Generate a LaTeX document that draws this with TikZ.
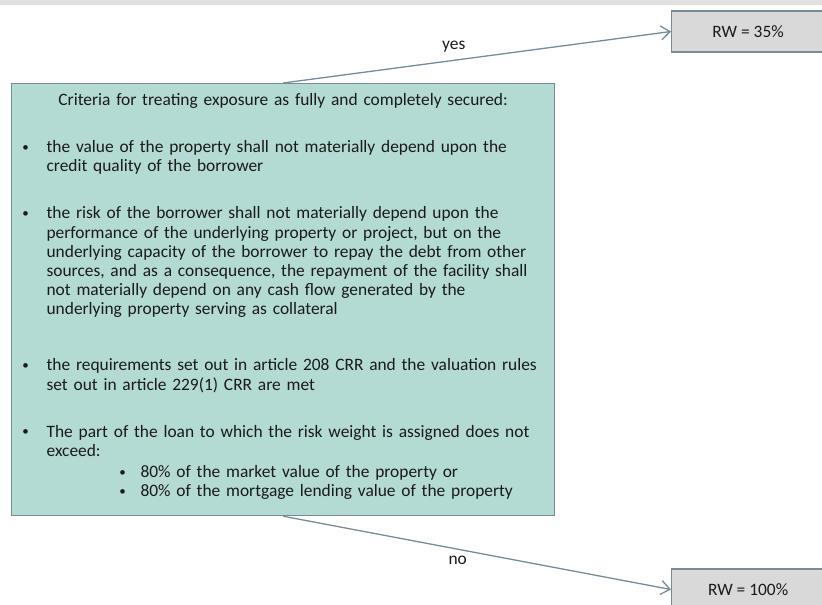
\documentclass[tikz,border=0pt]{standalone}
\usepackage{fontspec}
\setmainfont{Carlito}
\usetikzlibrary{arrows.meta}

\definecolor{boxfill}{RGB}{180,218,212}
\definecolor{edgeblue}{RGB}{120,140,152}
\definecolor{rwfill}{RGB}{217,217,217}
\definecolor{topbar}{RGB}{224,224,224}
\definecolor{ink}{RGB}{26,26,26}

% small list bullet
\newcommand\dotmark{\makebox[0pt][c]{\raisebox{1.2pt}{\fontsize{13pt}{13pt}\selectfont\textbullet}}}
% line helpers for the criteria list
\newcommand\bulline[1]{\hspace*{14pt}\dotmark\hspace*{21pt}#1}
\newcommand\contline[1]{\hspace*{35pt}#1}
\newcommand\subline[1]{\hspace*{111pt}\dotmark\hspace*{18pt}#1}

\tikzset{
  criteriabox/.style={draw=edgeblue, fill=boxfill, line width=1.2pt,
    anchor=north west, inner sep=0pt, text width=543pt, align=left,
    text=ink, font=\fontsize{17.4pt}{19.2pt}\selectfont},
  rwbox/.style={draw=edgeblue, fill=rwfill, line width=1.2pt, anchor=west,
    minimum width=153pt, minimum height=41pt, inner sep=0pt, text=ink,
    font=\fontsize{17.4pt}{21pt}\selectfont},
  flow/.style={draw=edgeblue, line width=1.3pt,
    -{Straight Barb[length=9pt,width=14pt,line width=1.3pt]}},
  lbl/.style={text=ink, font=\fontsize{17.4pt}{21pt}\selectfont, inner sep=0pt}
}

\begin{document}
\begin{tikzpicture}[x=1pt, y=-1pt]
  \useasboundingbox (0,0) rectangle (822,605);
  \clip (0,0) rectangle (822,605);

  % strip along the top edge
  \fill[topbar] (0,0) rectangle (822,4.5);

  % decision box
  \node[criteriabox] (criteria) at (11,83) {%
    \makebox[543pt][c]{\rule{0pt}{22pt}Criteria for treating exposure as fully and completely secured:}\\[27.8pt]
    \bulline{the value of the property shall not materially depend upon the}\\
    \contline{credit quality of the borrower}\\[27.8pt]
    \bulline{the risk of the borrower shall not materially depend upon the}\\
    \contline{performance of the underlying property or project, but on the}\\
    \contline{underlying capacity of the borrower to repay the debt from other}\\
    \contline{sources, and as a consequence, the repayment of the facility shall}\\
    \contline{not materially depend on any cash flow generated by the}\\
    \contline{underlying property serving as collateral}\\[36.8pt]
    \bulline{the requirements set out in article 208 CRR and the valuation rules}\\
    \contline{set out in article 229(1) CRR are met}\\[27.8pt]
    \bulline{The part of the loan to which the risk weight is assigned does not}\\
    \contline{exceed:}\\[1.8pt]
    \subline{80\% of the market value of the property or}\\
    \subline{80\% of the mortgage lending value of the property}\rule[-19.2pt]{0pt}{19.2pt}};

  % outcomes
  \node[rwbox] (rw35) at (671,31.5) {RW = 35\%};
  \node[rwbox] (rw100) at (671,589.5) {RW = 100\%};

  % connectors
  \draw[flow] (criteria.north) -- node[lbl, pos=0.44, yshift=14pt] (yeslbl) {yes} (rw35.west);
  \draw[flow] (criteria.south) -- node[lbl, pos=0.45, yshift=-11pt] (nolbl) {no} (rw100.west);
\end{tikzpicture}
\end{document}
